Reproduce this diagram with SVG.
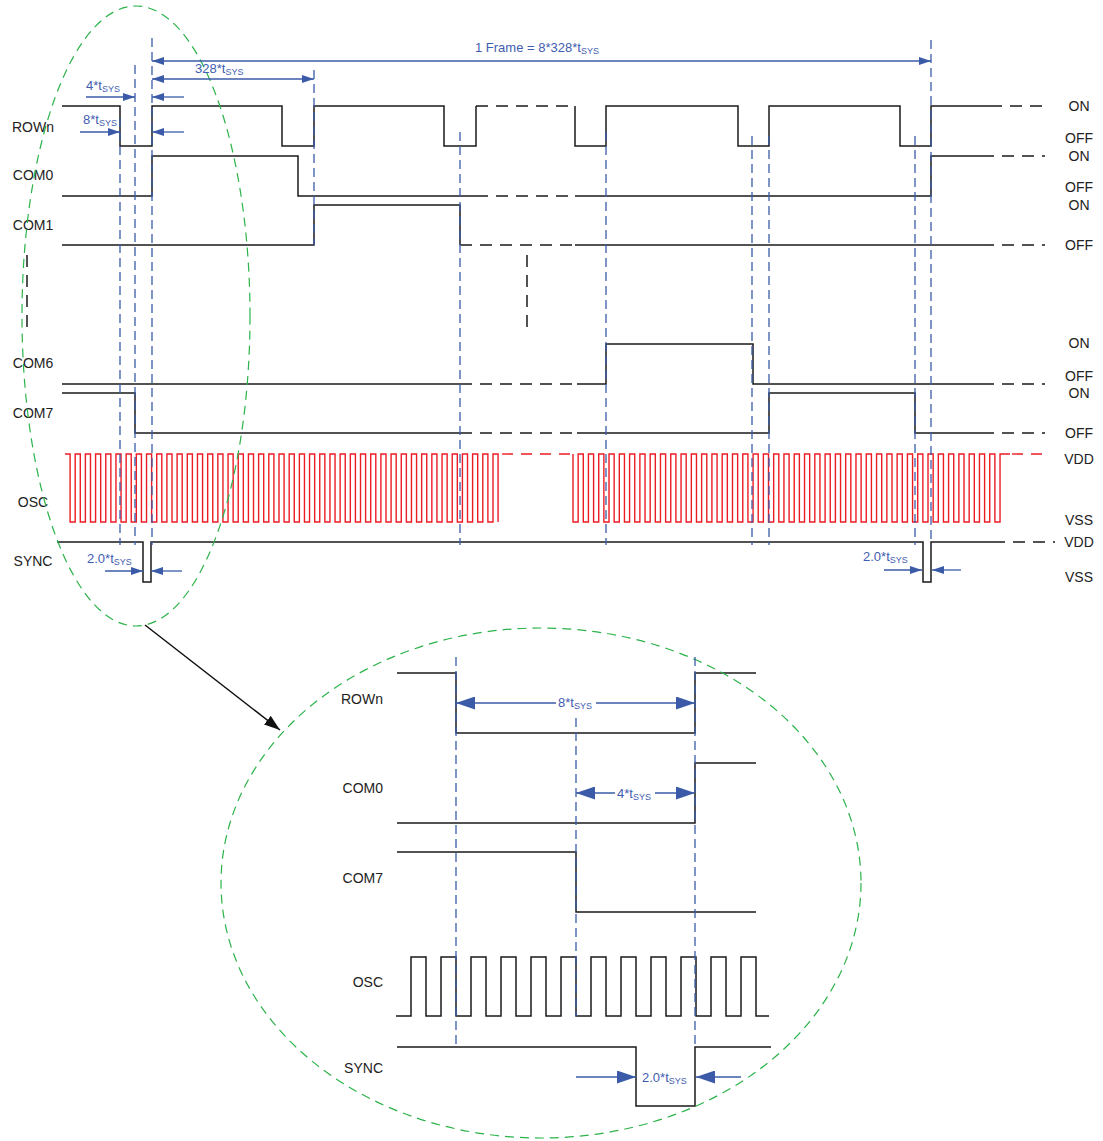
<svg xmlns="http://www.w3.org/2000/svg" width="1103" height="1141" viewBox="0 0 1103 1141">
<style>
.sig{fill:none;stroke:#1a1a1a;stroke-width:1.5}
.dash{fill:none;stroke:#1a1a1a;stroke-width:1.5;stroke-dasharray:12 8}
.osc{fill:none;stroke:#ec1c24;stroke-width:1.4}
.oscd{fill:none;stroke:#ec1c24;stroke-width:1.4;stroke-dasharray:11 8}
.guide{fill:none;stroke:#3b5ba9;stroke-width:1.3;stroke-dasharray:9 5}
.dim{fill:none;stroke:#3b5ba9;stroke-width:1.3}
.ell{fill:none;stroke:#2bb34a;stroke-width:1.2;stroke-dasharray:9 6}
.lbl{font-family:"Liberation Sans",Arial,sans-serif;font-size:14px;fill:#222}
.bt{font-family:"Liberation Sans",Arial,sans-serif;font-size:13px;fill:#3f5db0}
.sub{font-size:9px}
</style>
<defs>
<marker id="ah" viewBox="0 0 12 8" refX="12" refY="4" markerWidth="12" markerHeight="8" markerUnits="userSpaceOnUse" orient="auto-start-reverse"><path d="M0,0L12,4L0,8z" fill="#3b5ba9"/></marker>
<marker id="ahL" viewBox="0 0 19 13" refX="19" refY="6.5" markerWidth="19" markerHeight="13" markerUnits="userSpaceOnUse" orient="auto-start-reverse"><path d="M0,0L19,6.5L0,13z" fill="#3b5ba9"/></marker>
<marker id="ahK" viewBox="0 0 16 11" refX="16" refY="5.5" markerWidth="16" markerHeight="11" markerUnits="userSpaceOnUse" orient="auto"><path d="M0,0L16,5.5L0,11z" fill="#111"/></marker>
</defs>
<rect width="1103" height="1141" fill="#fff"/>

<!-- top timing diagram -->
<g id="rown">
<text class="lbl" x="33" y="132" text-anchor="middle">ROWn</text>
<path class="sig" d="M62,106H120V146H152V106H282V146H314V106H444V146H476V106"/>
<path class="dash" d="M476,106H575"/>
<path class="sig" d="M575,106V146H606V106H738V146H769V106H900V146H931V106H990"/>
<path class="dash" d="M990,106H1045"/>
</g>
<g id="com0">
<text class="lbl" x="33" y="180" text-anchor="middle">COM0</text>
<path class="sig" d="M62,196H152V156H298V196H476"/>
<path class="dash" d="M476,196H575"/>
<path class="sig" d="M575,196H931V156H982"/>
<path class="dash" d="M982,156H1045"/>
</g>
<g id="com1">
<text class="lbl" x="33" y="230" text-anchor="middle">COM1</text>
<path class="sig" d="M62,245H314V205H460V245"/>
<path class="dash" d="M460,245H575"/>
<path class="sig" d="M575,245H982"/>
<path class="dash" d="M982,245H1045"/>
</g>
<g id="ellipsis-marks">
<path class="dash" d="M27,255V335"/>
<path class="dash" d="M527,255V335"/>
</g>
<g id="com6">
<text class="lbl" x="33" y="368" text-anchor="middle">COM6</text>
<path class="sig" d="M62,384H460"/>
<path class="dash" d="M460,384H577"/>
<path class="sig" d="M577,384H606V344H753V384H982"/>
<path class="dash" d="M982,384H1045"/>
</g>
<g id="com7">
<text class="lbl" x="33" y="418" text-anchor="middle">COM7</text>
<path class="sig" d="M62,393H135V433H460"/>
<path class="dash" d="M460,433H577"/>
<path class="sig" d="M577,433H769V393H915V433H982"/>
<path class="dash" d="M982,433H1045"/>
</g>
<g id="osc">
<text class="lbl" x="33" y="507" text-anchor="middle">OSC</text>
<path class="osc" d="M65,454h5.1
v68h5.095v-68h5.095 v68h5.095v-68h5.095 v68h5.095v-68h5.095 v68h5.095v-68h5.095 v68h5.095v-68h5.095 v68h5.095v-68h5.095 v68h5.095v-68h5.095
v68h5.095v-68h5.095 v68h5.095v-68h5.095 v68h5.095v-68h5.095 v68h5.095v-68h5.095 v68h5.095v-68h5.095 v68h5.095v-68h5.095 v68h5.095v-68h5.095
v68h5.095v-68h5.095 v68h5.095v-68h5.095 v68h5.095v-68h5.095 v68h5.095v-68h5.095 v68h5.095v-68h5.095 v68h5.095v-68h5.095 v68h5.095v-68h5.095
v68h5.095v-68h5.095 v68h5.095v-68h5.095 v68h5.095v-68h5.095 v68h5.095v-68h5.095 v68h5.095v-68h5.095 v68h5.095v-68h5.095 v68h5.095v-68h5.095
v68h5.095v-68h5.095 v68h5.095v-68h5.095 v68h5.095v-68h5.095 v68h5.095v-68h5.095 v68h5.095v-68h5.095 v68h5.095v-68h5.095 v68h5.095v-68h5.095
v68h5.095v-68h5.095 v68h5.095v-68h5.095 v68h5.095v-68h5.095 v68h5.095v-68h5.095 v68h5.095v-68h5.095 v68h5.095v-68h5.095 v68h5.095v-68h5.095
v68"/>
<path class="oscd" d="M502,454H573"/>
<path class="osc" d="M573,454
v68h5.145v-68h5.145 v68h5.145v-68h5.145 v68h5.145v-68h5.145 v68h5.145v-68h5.145 v68h5.145v-68h5.145 v68h5.145v-68h5.145 v68h5.145v-68h5.145
v68h5.145v-68h5.145 v68h5.145v-68h5.145 v68h5.145v-68h5.145 v68h5.145v-68h5.145 v68h5.145v-68h5.145 v68h5.145v-68h5.145 v68h5.145v-68h5.145
v68h5.145v-68h5.145 v68h5.145v-68h5.145 v68h5.145v-68h5.145 v68h5.145v-68h5.145 v68h5.145v-68h5.145 v68h5.145v-68h5.145 v68h5.145v-68h5.145
v68h5.145v-68h5.145 v68h5.145v-68h5.145 v68h5.145v-68h5.145 v68h5.145v-68h5.145 v68h5.145v-68h5.145 v68h5.145v-68h5.145 v68h5.145v-68h5.145
v68h5.145v-68h5.145 v68h5.145v-68h5.145 v68h5.145v-68h5.145 v68h5.145v-68h5.145 v68h5.145v-68h5.145 v68h5.145v-68h5.145 v68h5.145v-68h5.145
v68h5.145v-68h5.145 v68h5.145v-68h5.145 v68h5.145v-68h5.145 v68h5.145v-68h5.145 v68h5.145v-68h5.145 v68h5.145v-68h5.145
v68h5.145v-68H1010"/>
<path class="oscd" d="M1012,454H1047"/>
</g>
<g id="sync">
<text class="lbl" x="33" y="566" text-anchor="middle">SYNC</text>
<path class="sig" d="M57,542H143V582H151V542H923V582H931V542H993"/>
<path class="dash" d="M993,542H1055"/>
</g>
<g id="levels">
<text class="lbl" x="1079" y="111" text-anchor="middle">ON</text>
<text class="lbl" x="1079" y="143" text-anchor="middle">OFF</text>
<text class="lbl" x="1079" y="161" text-anchor="middle">ON</text>
<text class="lbl" x="1079" y="192" text-anchor="middle">OFF</text>
<text class="lbl" x="1079" y="210" text-anchor="middle">ON</text>
<text class="lbl" x="1079" y="250" text-anchor="middle">OFF</text>
<text class="lbl" x="1079" y="348" text-anchor="middle">ON</text>
<text class="lbl" x="1079" y="381" text-anchor="middle">OFF</text>
<text class="lbl" x="1079" y="398" text-anchor="middle">ON</text>
<text class="lbl" x="1079" y="438" text-anchor="middle">OFF</text>
<text class="lbl" x="1079" y="464" text-anchor="middle">VDD</text>
<text class="lbl" x="1079" y="525" text-anchor="middle">VSS</text>
<text class="lbl" x="1079" y="547" text-anchor="middle">VDD</text>
<text class="lbl" x="1079" y="582" text-anchor="middle">VSS</text>
</g>

<!-- bottom zoomed diagram -->
<g id="rown-zoom">
<text class="lbl" x="383" y="704" text-anchor="end">ROWn</text>
<path class="sig" d="M397,673H456V733H695V673H756"/>
</g>
<g id="com0-zoom">
<text class="lbl" x="383" y="793" text-anchor="end">COM0</text>
<path class="sig" d="M397,823H695V763H756"/>
</g>
<g id="com7-zoom">
<text class="lbl" x="383" y="883" text-anchor="end">COM7</text>
<path class="sig" d="M397,852H576V912H756"/>
</g>
<g id="osc-zoom">
<text class="lbl" x="383" y="987" text-anchor="end">OSC</text>
<path class="sig" d="M396,1016h15
v-59h15v59h15v-59h15v59h15v-59h15v59h15v-59h15v59h15v-59h15v59h15v-59h15v59h15
v-59h15v59h15v-59h15v59h15v-59h15v59h15v-59h15v59h15v-59h15v59h15v-59h15v59h13"/>
</g>
<g id="sync-zoom">
<text class="lbl" x="383" y="1073" text-anchor="end">SYNC</text>
<path class="sig" d="M397,1047H636V1106H695V1047H771"/>
</g>

<g id="connectors">
<ellipse class="ell" cx="136" cy="316" rx="114" ry="310"/>
<ellipse class="ell" cx="541" cy="883" rx="320" ry="255"/>
<path d="M145,625L280,730" stroke="#111" stroke-width="1.5" fill="none" marker-end="url(#ahK)"/>

<path class="guide" d="M120,118V545M135,65V545M152,38V545M314,70V245M460,132V545M606,132V545M752,136V545M769,136V545M915,136V545M931,40V545"/>

<path class="dim" d="M152,61H931" marker-start="url(#ah)" marker-end="url(#ah)"/>
<text class="bt" x="475" y="52">1 Frame = 8*328*t<tspan class="sub" dy="2">SYS</tspan></text>
<path class="dim" d="M152,79H314" marker-start="url(#ah)" marker-end="url(#ah)"/>
<text class="bt" x="195" y="73">328*t<tspan class="sub" dy="2">SYS</tspan></text>
<path class="dim" d="M86,97H135" marker-end="url(#ah)"/>
<path class="dim" d="M184,97H152" marker-end="url(#ah)"/>
<text class="bt" x="86" y="90">4*t<tspan class="sub" dy="2">SYS</tspan></text>
<path class="dim" d="M80,132H120" marker-end="url(#ah)"/>
<path class="dim" d="M184,132H152" marker-end="url(#ah)"/>
<text class="bt" x="83" y="124">8*t<tspan class="sub" dy="2">SYS</tspan></text>
<path class="dim" d="M105,571H143" marker-end="url(#ah)"/>
<path class="dim" d="M182,571H151" marker-end="url(#ah)"/>
<text class="bt" x="87" y="563">2.0*t<tspan class="sub" dy="2">SYS</tspan></text>
<path class="dim" d="M884,570H922" marker-end="url(#ah)"/>
<path class="dim" d="M961,570H932" marker-end="url(#ah)"/>
<text class="bt" x="863" y="561">2.0*t<tspan class="sub" dy="2">SYS</tspan></text>

<path class="guide" d="M456,657V1047M576,718V1016M695,657V1047"/>

<path class="dim" d="M456,703H556" marker-start="url(#ahL)"/>
<path class="dim" d="M596,703H695" marker-end="url(#ahL)"/>
<text class="bt" x="558" y="707">8*t<tspan class="sub" dy="2">SYS</tspan></text>
<path class="dim" d="M576,793H615" marker-start="url(#ahL)"/>
<path class="dim" d="M655,793H695" marker-end="url(#ahL)"/>
<text class="bt" x="617" y="798">4*t<tspan class="sub" dy="2">SYS</tspan></text>
<path class="dim" d="M576,1077H636" marker-end="url(#ahL)"/>
<path class="dim" d="M741,1077H696" marker-end="url(#ahL)"/>
<text class="bt" x="642" y="1082">2.0*t<tspan class="sub" dy="2">SYS</tspan></text>
</g>
</svg>
